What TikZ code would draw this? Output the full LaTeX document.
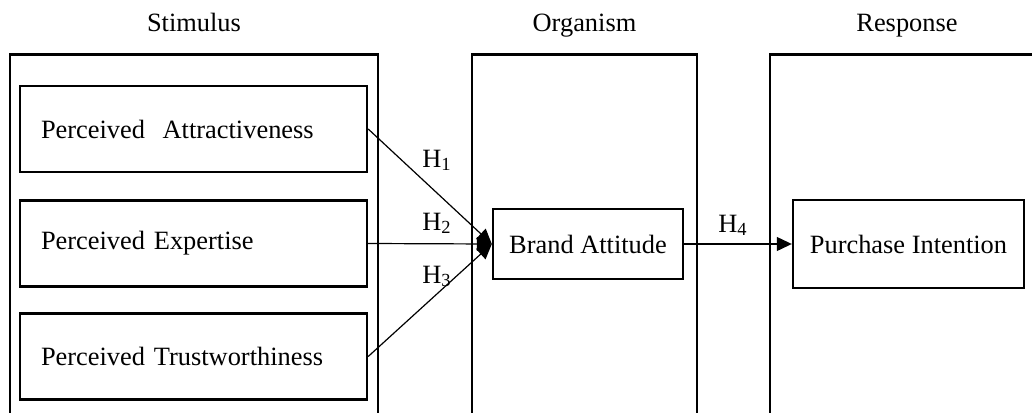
\documentclass[tikz,border=0pt]{standalone}
\usepackage{fontspec}
\setmainfont{Liberation Serif}
\usetikzlibrary{arrows.meta,positioning}

\begin{document}
\begin{tikzpicture}[x=0.5pt, y=-0.5pt,
    font=\fontsize{13.2}{15.8}\selectfont,
    sorbox/.style={draw, line width=1.3pt, minimum width=#1, minimum height=220pt, anchor=north},
    stimbox/.style={draw, line width=1.2pt, minimum width=173.5pt, minimum height=43pt,
      inner xsep=10.5pt, text width=152.5pt, align=left},
    orgbox/.style={draw, line width=1.2pt, minimum height=#1},
    hyp/.style={-{Triangle[length=7.5pt, width=7pt]}, line width=0.6pt},
    hlab/.style={anchor=base, inner sep=0pt}]
  \useasboundingbox (0,0) rectangle (1032,412);
  \clip (0,0) rectangle (1032,412);
  % S-O-R frames, open at the bottom
  \node [sorbox=184pt] (stim) at (194,53) {};
  \node [sorbox=112.5pt] (org) at (584.5,53) {};
  \node [sorbox=137pt] (resp) at (907,53) {};
  \node [anchor=base] (tstim) at (194,32) {Stimulus};
  \node [anchor=base] (torg) at (584.5,32) {Organism};
  \node [anchor=base] (tresp) at (907,32) {Response};
  % constructs
  \node [stimbox] (attr) at (193.5,129) {Perceived~ Attractiveness};
  \node [stimbox] (expe) at (193.5,243.5) {Perceived Expertise};
  \node [stimbox] (trust) at (193.5,356.5) {Perceived Trustworthiness};
  \node [orgbox=35pt, minimum width=95pt] (brand) at (588,244) {Brand Attitude};
  \node [orgbox=44pt, minimum width=115.5pt] (purch) at (908.5,244) {Purchase Intention};
  % hypotheses
  \draw [hyp] (attr.east) -- (brand.west);
  \draw [hyp] (expe.east) -- (brand.west);
  \draw [hyp] (trust.east) -- (brand.west);
  \draw [hyp] (brand.east) -- (purch.west);
  \node [hlab] (h1) at (437,167) {H\textsubscript{1}};
  \node [hlab] (h2) at (437,230) {H\textsubscript{2}};
  \node [hlab] (h3) at (437,283) {H\textsubscript{3}};
  \node [hlab] (h4) at (733,232) {H\textsubscript{4}};
\end{tikzpicture}
\end{document}
